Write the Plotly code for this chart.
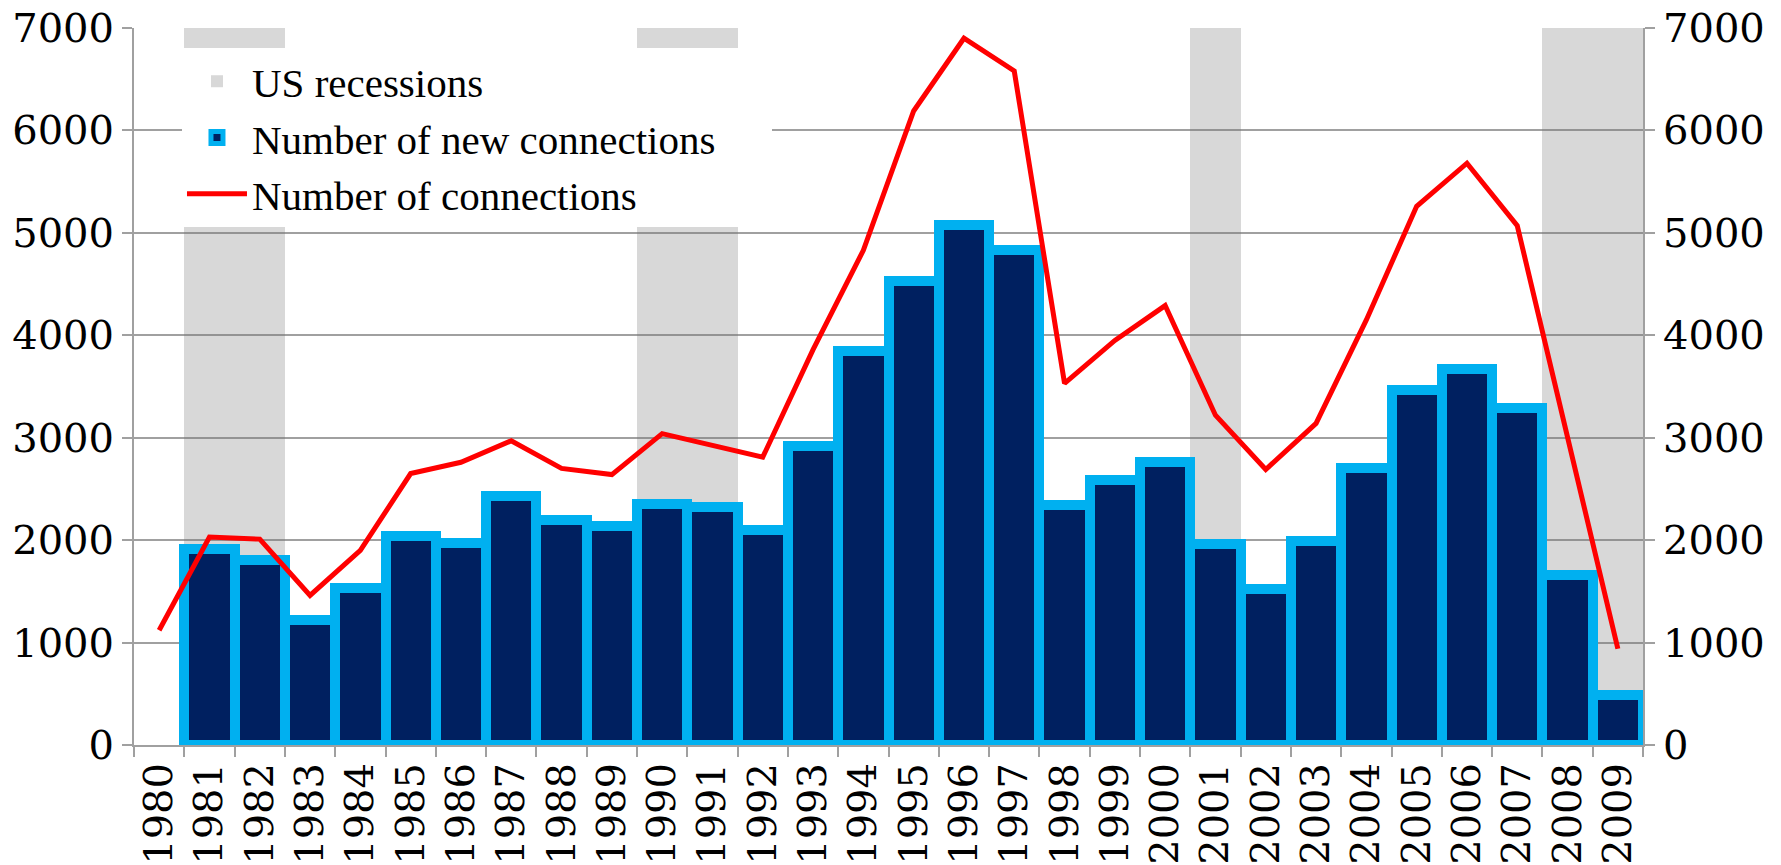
import plotly.graph_objects as go

years = [str(y) for y in range(1980, 2010)]
bar_years = years[1:]
new_connections = [1918, 1807, 1220, 1530, 2040, 1973, 2428, 2195, 2140, 2350,
                   2328, 2095, 2916, 3847, 4534, 5078, 4834, 2339, 2583, 2761,
                   1962, 1519, 1996, 2705, 3470, 3670, 3293, 1663, 488]
connections = [1120, 2030, 2010, 1460, 1900, 2650, 2760, 2970, 2700, 2640,
               3040, 2920, 2810, 3860, 4830, 6190, 6900, 6580, 3530, 3950,
               4290, 3220, 2690, 3140, 4150, 5260, 5680, 5070, 2990, 940]
recession_years = ["1981", "1982", "1990", "1991", "2001", "2008", "2009"]
recession_height = [7000] * len(recession_years)
y_ticks = [0, 1000, 2000, 3000, 4000, 5000, 6000, 7000]

tick_font = dict(family="DejaVu Serif", size=40, color="black")
grid_col = "#A0A0A0"
pad = "\u00a0" * 5

fig = go.Figure()
fig.add_trace(go.Bar(
    x=recession_years, y=recession_height, name="US recessions",
    marker=dict(color="rgba(115,115,115,0.28)", line=dict(width=0)),
    width=1.0,
))
fig.add_trace(go.Bar(
    x=bar_years, y=new_connections, name="Number of new connections" + pad,
    marker=dict(color="#002060", line=dict(color="#00B0F0", width=10)),
    width=1.0,
))
fig.add_trace(go.Scatter(
    x=years, y=connections, name="Number of connections", yaxis="y2",
    mode="lines", line=dict(color="#FF0000", width=5),
))

fig.update_layout(
    width=1781, height=865,
    margin=dict(l=134, r=138, t=28, b=120),
    paper_bgcolor="white", plot_bgcolor="white",
    barmode="overlay", bargap=0,
    showlegend=True,
    legend=dict(
        x=0.0318, y=0.972, xanchor="left", yanchor="top",
        bgcolor="white", borderwidth=0,
        font=dict(family="Liberation Serif", size=41, color="black"),
        tracegroupgap=0, itemwidth=60,
    ),
    xaxis=dict(
        type="category", categoryorder="array", categoryarray=years,
        range=[-0.5, 29.5], tickangle=-90, tickfont=tick_font, automargin=False,
        showline=True, linecolor=grid_col, linewidth=2,
        ticks="outside", tickson="boundaries", ticklen=10, tickcolor=grid_col, tickwidth=2,
        showgrid=False,
    ),
    yaxis=dict(
        range=[0, 7000], tickvals=y_ticks, tickfont=tick_font, automargin=False,
        showline=True, linecolor=grid_col, linewidth=2,
        ticks="outside", ticklen=10, tickcolor=grid_col, tickwidth=2,
        showgrid=True, gridcolor=grid_col, gridwidth=2, zeroline=False,
    ),
    yaxis2=dict(
        range=[0, 7000], tickvals=y_ticks, tickfont=tick_font, automargin=False,
        overlaying="y", side="right",
        showline=True, linecolor=grid_col, linewidth=2,
        ticks="outside", ticklen=10, tickcolor=grid_col, tickwidth=2,
        showgrid=False, zeroline=False,
    ),
)

fig.write_html("out.html", config={"displayModeBar": False},
               post_script="document.body.style.margin='0px';")
